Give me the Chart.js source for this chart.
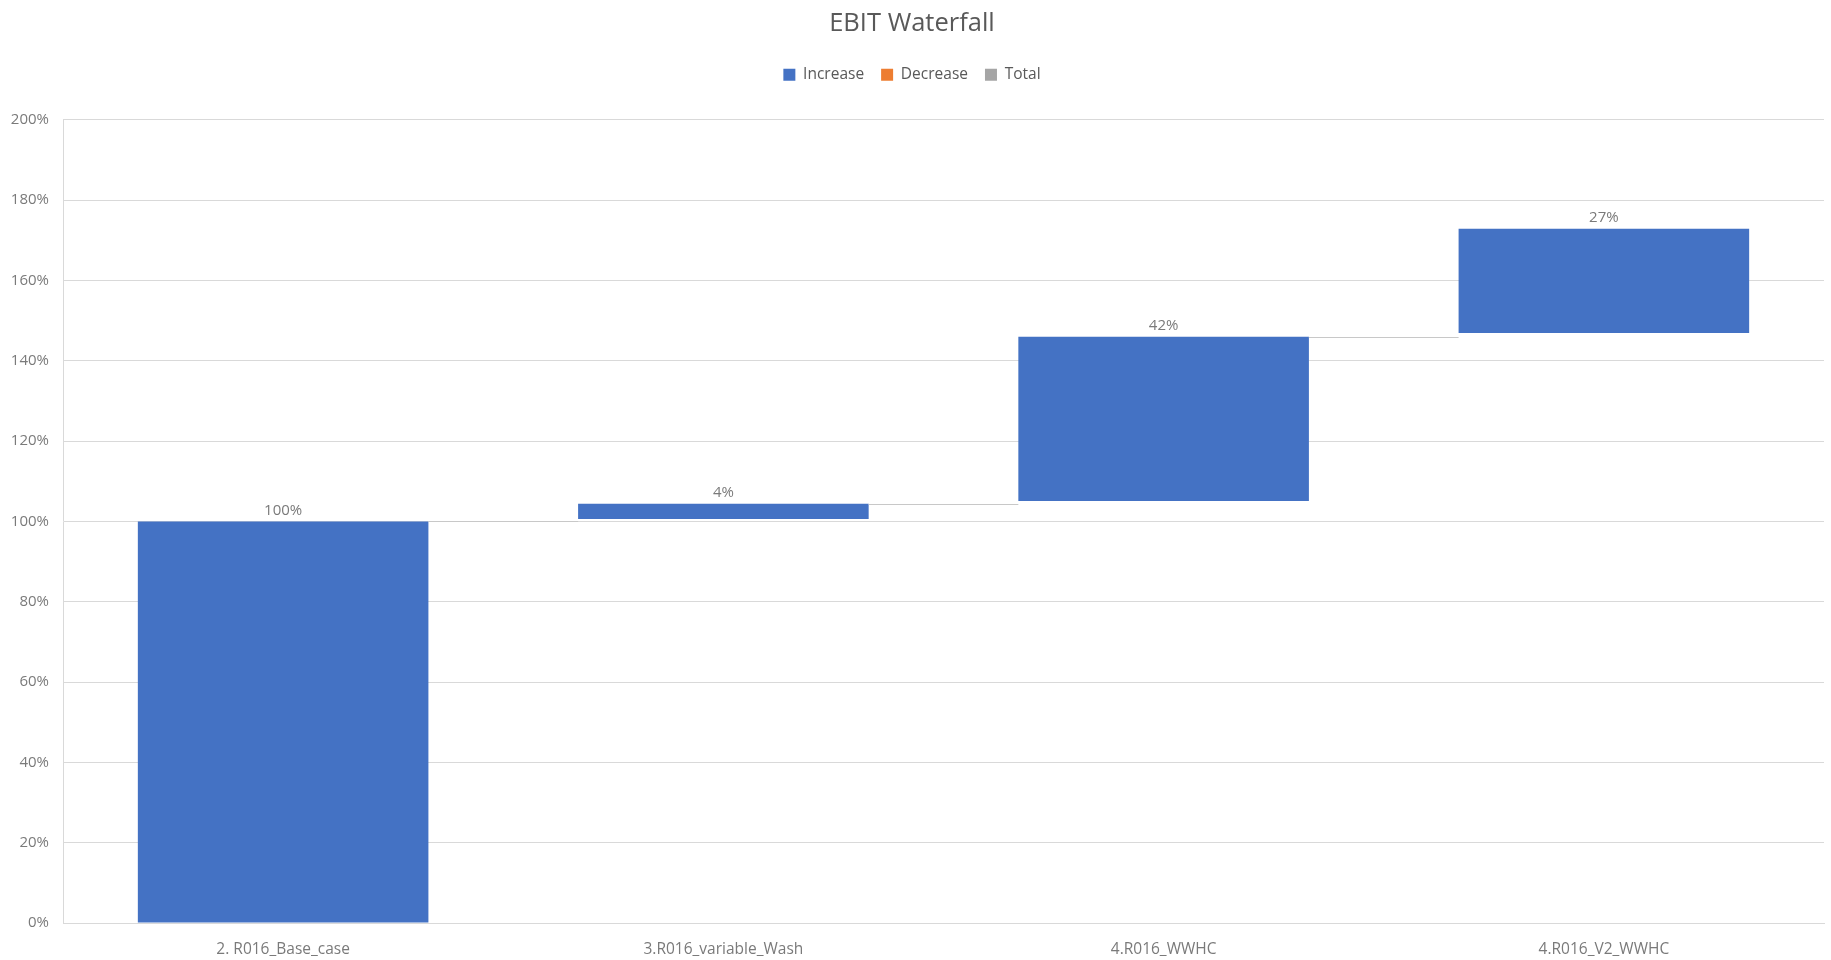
<!DOCTYPE html>
<html>
<head>
<meta charset="utf-8">
<script src="https://cdn.jsdelivr.net/npm/chart.js@4/dist/chart.umd.min.js"></script>
<style>
  html, body { margin: 0; padding: 0; background: #fff; overflow: hidden; }
  #wrap { position: relative; width: 1831px; height: 960px; }
</style>
</head>
<body>
<div id="wrap"><canvas id="waterfall" width="1831" height="960"></canvas></div>
<script>
// valores (em %)
const categorias = ['2. R016_Base_case', '3.R016_variable_Wash', '4.R016_WWHC', '4.R016_V2_WWHC'];
const inicioBarra = [0, 100.6, 105.1, 146.9];
const fimBarra = [100, 104.4, 146.0, 172.9];
const rotulosValor = ['100%', '4%', '42%', '27%'];
const ticksY = [0, 20, 40, 60, 80, 100, 120, 140, 160, 180, 200];

const corAumento = '#4472C4', corQueda = '#ED7D31', corTotal = '#A5A5A5';
const fonte = "'Open Sans', sans-serif";

// linhas de ligação entre as barras + rótulos em cima
const conectores = {
  id: 'conectores',
  afterDatasetsDraw(chart) {
    const ctx = chart.ctx;
    const barras = chart.getDatasetMeta(0).data;
    const y = chart.scales.y;
    ctx.save();
    ctx.strokeStyle = '#c8c8c8';
    ctx.lineWidth = 1;
    for (let i = 0; i < barras.length - 1; i++) {
      const a = barras[i], b = barras[i + 1];
      const py = Math.round(y.getPixelForValue(fimBarra[i])) + 0.5;
      ctx.beginPath();
      ctx.moveTo(a.x + a.width / 2, py);
      ctx.lineTo(b.x - b.width / 2, py);
      ctx.stroke();
    }
    ctx.fillStyle = '#7a7a7a';
    ctx.font = '15px ' + fonte;
    ctx.textAlign = 'center';
    ctx.textBaseline = 'middle';
    barras.forEach((b, i) => {
      const topo = Math.min(b.y, b.base);
      ctx.fillText(rotulosValor[i], b.x, topo - 11);
    });
    ctx.restore();
  }
};

new Chart(document.getElementById('waterfall').getContext('2d'), {
  type: 'bar',
  data: {
    labels: categorias,
    datasets: [
      { label: 'Increase', data: inicioBarra.map((s, i) => [s, fimBarra[i]]), backgroundColor: corAumento },
      { label: 'Decrease', data: [], backgroundColor: corQueda },
      { label: 'Total', data: [], backgroundColor: corTotal }
    ]
  },
  options: {
    responsive: false,
    animation: false,
    maintainAspectRatio: false,
    datasets: { bar: { grouped: false, categoryPercentage: 1, barPercentage: 0.66 } },
    layout: { padding: { left: 0, right: 7, top: 0, bottom: 0 } },
    plugins: {
      tooltip: { enabled: false },
      title: {
        display: true,
        text: 'EBIT Waterfall',
        color: '#595959',
        font: { family: fonte, size: 25.5, weight: 'normal' },
        padding: { top: 8, bottom: 11.5 }
      },
      // espaço vazio entre a legenda e a área do gráfico
      subtitle: {
        display: true,
        text: '',
        weight: 500,
        font: { size: 1 },
        padding: { top: 26, bottom: 0 }
      },
      legend: {
        display: true,
        position: 'top',
        labels: {
          color: '#595959',
          font: { family: fonte, size: 15.5 },
          boxWidth: 12,
          boxHeight: 12,
          padding: 17
        }
      }
    },
    scales: {
      x: {
        afterFit: s => { s.height = 37; },
        grid: { display: false, drawTicks: false },
        border: { color: '#d9d9d9' },
        ticks: { color: '#7a7a7a', font: { family: fonte, size: 15.5 }, padding: 17, maxRotation: 0 }
      },
      y: {
        min: 0,
        max: 200,
        afterBuildTicks: s => { s.ticks = ticksY.map(v => ({ value: v })); },
        afterFit: s => { s.width = 63; },
        grid: { color: '#d9d9d9', drawTicks: false },
        border: { color: '#d9d9d9' },
        ticks: {
          color: '#7a7a7a',
          font: { family: fonte, size: 15 },
          padding: 14,
          callback: v => v + '%'
        }
      }
    }
  },
  plugins: [conectores]
});
</script>
</body>
</html>
